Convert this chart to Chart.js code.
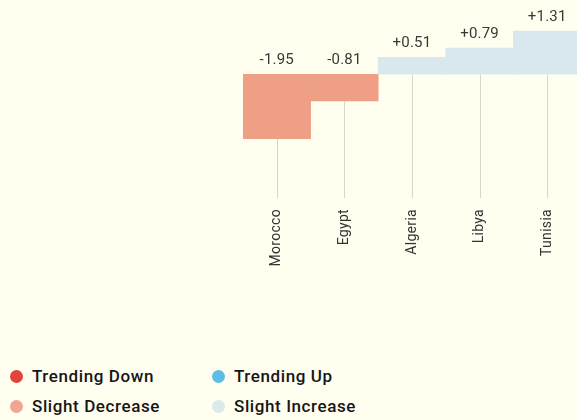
<!DOCTYPE html>
<html>
<head>
<meta charset="utf-8">
<script src="https://cdn.jsdelivr.net/npm/chart.js@4/dist/chart.umd.min.js"></script>
<style>
  html, body { margin: 0; padding: 0; background: #fffeef; }
  #wrap { position: relative; width: 577px; height: 420px; overflow: hidden; background: #fffeef; }
  #plot { position: absolute; left: 0; top: 0; width: 581px; height: 280px; }
  #legend { position: absolute; left: 0; top: 361px; font-family: Roboto, sans-serif; font-weight: 500; font-size: 17px; letter-spacing: 0.6px; color: #161616; }
  .item { position: absolute; white-space: nowrap; height: 30px; line-height: 30px; padding-left: 32px; }
  .dot { position: absolute; left: 10px; top: 9px; width: 13px; height: 13px; border-radius: 50%; }
</style>
</head>
<body>
<div id="wrap">
  <div id="plot"><canvas id="chart"></canvas></div>
  <div id="legend"></div>
</div>
<script>
// Change per country
const countries = ['Morocco', 'Egypt', 'Algeria', 'Libya', 'Tunisia'];
const changes = [-1.95, -0.81, 0.51, 0.79, 1.31];

// Legend classes and their colours
const legendLabels = ['Trending Down', 'Trending Up', 'Slight Decrease', 'Slight Increase'];
const legendColors = ['#e2443b', '#5ebde4', '#f2a594', '#d9eaea'];

// Bar fill colours by class
const barColors = {
  trendDown: '#e2443b',
  trendUp: '#5ebde4',
  slightDown: '#ee9f86',
  slightUp: '#d9e8ee'
};

function colorFor(v) {
  if (v <= -2) return barColors.trendDown;
  if (v < 0) return barColors.slightDown;
  if (v >= 2) return barColors.trendUp;
  return barColors.slightUp;
}

function fmt(v) {
  return (v > 0 ? '+' : '') + v.toFixed(2);
}

// Slightly open letter spacing for all canvas text
const spacing = {
  id: 'spacing',
  beforeDraw(chart) { chart.ctx.letterSpacing = '0.3px'; }
};

// Thin stems from the zero line down to the country labels
const stems = {
  id: 'stems',
  beforeDatasetsDraw(chart) {
    const { ctx, chartArea, scales: { x, y } } = chart;
    const y0 = y.getPixelForValue(0);
    ctx.save();
    ctx.strokeStyle = '#d8d6cb';
    ctx.lineWidth = 1;
    countries.forEach((c, i) => {
      const px = Math.round(x.getPixelForTick(i)) + 0.5;
      ctx.beginPath();
      ctx.moveTo(px, y0);
      ctx.lineTo(px, chartArea.bottom);
      ctx.stroke();
    });
    ctx.restore();
  }
};

// Value labels above each bar
const valueLabels = {
  id: 'valueLabels',
  afterDatasetsDraw(chart) {
    const { ctx } = chart;
    const meta = chart.getDatasetMeta(0);
    ctx.save();
    ctx.font = '400 15px Roboto, sans-serif';
    ctx.letterSpacing = '0.2px';
    ctx.fillStyle = '#383838';
    ctx.textAlign = 'center';
    ctx.textBaseline = 'alphabetic';
    meta.data.forEach((bar, i) => {
      const top = Math.min(bar.y, bar.base);
      ctx.fillText(fmt(changes[i]), bar.x, top - 10);
    });
    ctx.restore();
  }
};

new Chart(document.getElementById('chart'), {
  type: 'bar',
  data: {
    labels: countries,
    datasets: [{
      data: changes,
      backgroundColor: changes.map(colorFor),
      borderWidth: 0,
      barPercentage: 1,
      categoryPercentage: 1
    }]
  },
  options: {
    responsive: true,
    maintainAspectRatio: false,
    animation: false,
    layout: { padding: { left: 243, right: 0, top: 0, bottom: 0 } },
    plugins: { legend: { display: false }, tooltip: { enabled: false } },
    scales: {
      x: {
        grid: { display: false, drawTicks: false },
        border: { display: false },
        ticks: {
          minRotation: 90,
          maxRotation: 90,
          padding: 11,
          color: '#333333',
          font: { family: 'Roboto, sans-serif', size: 14 }
        },
        afterFit(scale) { scale.height = 82; }
      },
      y: {
        display: false,
        min: -3.75,
        max: 2.25
      }
    }
  },
  plugins: [spacing, stems, valueLabels]
});

// Legend in two columns
const legend = document.getElementById('legend');
legendLabels.forEach((label, i) => {
  const item = document.createElement('div');
  item.className = 'item';
  item.style.left = (i % 2) * 202 + 'px';
  item.style.top = Math.floor(i / 2) * 30 + 'px';
  const dot = document.createElement('span');
  dot.className = 'dot';
  dot.style.background = legendColors[i];
  item.appendChild(dot);
  item.appendChild(document.createTextNode(label));
  legend.appendChild(item);
});
</script>
</body>
</html>
